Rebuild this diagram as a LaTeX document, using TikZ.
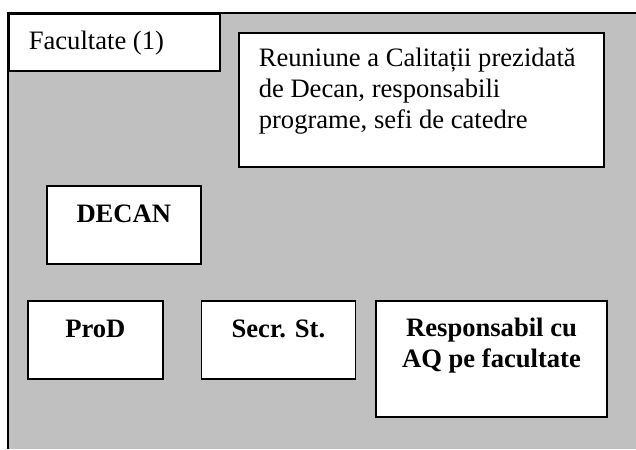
\documentclass[tikz,border=0pt]{standalone}
\usepackage{fontspec}
\setmainfont{Liberation Serif}
\usetikzlibrary{positioning}
\definecolor{silver}{RGB}{192,192,192}

\begin{document}
\begin{tikzpicture}[x=0.5pt, y=-0.5pt,
  box/.style={draw, fill=white, line width=0.8pt, inner sep=0pt, anchor=north west},
  font=\fontsize{13.3pt}{15.5pt}\selectfont]
  \useasboundingbox (0,0) rectangle (636,449);
  % background of the faculty frame
  \fill[silver] (8,13) rectangle (636,449);
  \draw[line width=1pt] (8,449) -- (8,13) -- (636,13);

  \node[box] (fac) at (8,13) {\parbox[t][28.5pt][t]{105.5pt}{\leftskip=10pt\rule{0pt}{18pt}Facultate (1)}};
  \node[box] (reun) at (238,32) {\parbox[t][67pt][t]{182.5pt}{\raggedright\leftskip=10pt\rule{0pt}{17pt}Reuniune a Calitații prezidată\\ de Decan, responsabili\\ programe, sefi de catedre}};
  \node[box] (decan) at (46,185) {\parbox[t][39pt][t]{77pt}{\centering\rule{0pt}{18.5pt}\textbf{DECAN}}};

  \node[box] (prod) at (27,300) {\parbox[t][39pt][t]{67.5pt}{\centering\rule{0pt}{18.5pt}\textbf{ProD}}};
  \node[box, right=18.5pt of prod.north east, anchor=north west] (secr) {\parbox[t][39pt][t]{77pt}{\centering\rule{0pt}{18.5pt}\textbf{Secr. St.}}};
  \node[box, right=9.5pt of secr.north east, anchor=north west] (resp) {\parbox[t][58pt][t]{115.5pt}{\centering\rule{0pt}{18pt}\textbf{Responsabil cu}\\ \textbf{AQ pe facultate}}};
\end{tikzpicture}
\end{document}
